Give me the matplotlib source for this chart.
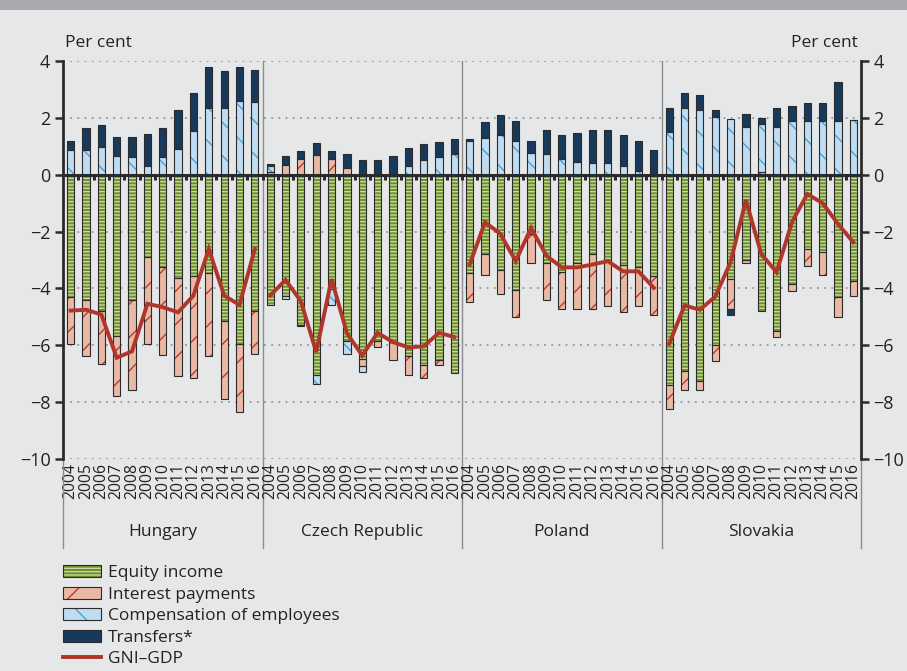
import numpy as np
import matplotlib
matplotlib.use("Agg")
import matplotlib.pyplot as plt
from matplotlib.patches import Patch, Rectangle
from matplotlib.lines import Line2D
from matplotlib.legend_handler import HandlerTuple

plt.rcParams['font.family'] = ['Open Sans', 'DejaVu Sans']
plt.rcParams['hatch.linewidth'] = 1.0

countries = ['Hungary', 'Czech Republic', 'Poland', 'Slovakia']
years = [str(y) for y in range(2004, 2017)]

equity = {
    'Hungary':        [-4.31, -4.40, -4.78, -5.67, -4.40, -2.88, -3.26, -3.63, -3.56, -3.47, -5.13, -5.97, -4.78],
    'Czech Republic': [-4.57, -4.25, -5.27, -7.06, -4.02, -5.85, -6.48, -5.85, -5.89, -6.36, -6.71, -6.51, -6.97],
    'Poland':         [-3.47, -2.79, -3.35, -4.04, -2.08, -3.10, -3.41, -3.10, -2.79, -3.08, -3.17, -3.23, -3.58],
    'Slovakia':       [-7.39, -6.92, -7.24, -5.98, -3.67, -3.00, -4.81, -5.50, -3.84, -2.63, -2.73, -4.29, -3.75],
}
interest = {
    'Hungary':        [-1.66, -1.99, -1.87, -2.11, -3.16, -3.09, -3.09, -3.45, -3.58, -2.92, -2.75, -2.37, -1.52],
    'Czech Republic': [0.08, 0.35, 0.56, 0.71, 0.56, 0.25, -0.26, -0.22, -0.62, -0.67, -0.43, -0.20, 0.0],
    'Poland':         [-0.99, -0.73, -0.84, -0.95, -1.02, -1.30, -1.31, -1.62, -1.93, -1.53, -1.67, -1.38, -1.34],
    'Slovakia':       [-0.84, -0.64, -0.32, -0.58, -1.05, -0.10, 0.09, -0.21, -0.26, -0.59, -0.79, -0.70, -0.52],
}
compensation = {
    'Hungary':        [0.86, 0.86, 0.98, 0.66, 0.61, 0.31, 0.61, 0.92, 1.55, 2.35, 2.35, 2.60, 2.55],
    'Czech Republic': [0.23, -0.12, -0.05, -0.29, -0.55, -0.45, -0.19, 0.0, 0.0, 0.31, 0.51, 0.62, 0.72],
    'Poland':         [1.18, 1.29, 1.39, 1.18, 0.76, 0.72, 0.54, 0.45, 0.40, 0.40, 0.31, 0.12, 0.0],
    'Slovakia':       [1.51, 2.35, 2.26, 2.04, 1.95, 1.68, 1.69, 1.68, 1.88, 1.88, 1.88, 1.88, 1.94],
}
transfers = {
    'Hungary':        [0.32, 0.79, 0.76, 0.67, 0.72, 1.11, 1.04, 1.35, 1.34, 1.43, 1.29, 1.18, 1.13],
    'Czech Republic': [0.05, 0.30, 0.29, 0.40, 0.29, 0.49, 0.53, 0.53, 0.65, 0.63, 0.58, 0.53, 0.53],
    'Poland':         [0.07, 0.55, 0.70, 0.70, 0.44, 0.84, 0.87, 1.03, 1.16, 1.16, 1.10, 1.08, 0.88],
    'Slovakia':       [0.82, 0.54, 0.53, 0.22, -0.21, 0.47, 0.22, 0.65, 0.54, 0.65, 0.65, 1.39, 0.0],
}
gni_gdp = {
    'Hungary':        [-4.78, -4.75, -4.92, -6.44, -6.21, -4.54, -4.66, -4.84, -4.25, -2.61, -4.25, -4.58, -2.61],
    'Czech Republic': [-4.25, -3.70, -4.45, -6.24, -3.67, -5.57, -6.36, -5.56, -5.89, -6.07, -6.04, -5.56, -5.71],
    'Poland':         [-3.16, -1.67, -2.08, -3.04, -1.87, -2.85, -3.26, -3.26, -3.16, -3.04, -3.40, -3.40, -3.98],
    'Slovakia':       [-5.95, -4.60, -4.75, -4.29, -3.08, -0.89, -2.79, -3.43, -1.67, -0.68, -1.00, -1.73, -2.38],
}

series = [
    ('Equity income', equity, '#6f8f2c', '#c5d99e', '-----'),
    ('Interest payments', interest, '#e9b9a6', '#c0392b', '/'),
    ('Compensation of employees', compensation, '#bfdcf2', '#4a9fd8', '\\'),
    ('Transfers*', transfers, '#173a5c', '#173a5c', None),
]
line_color = '#b0362b'
outline = '#2b2b2b'
bg = '#e6e7e8'

fig = plt.figure(figsize=(9.07, 6.71), dpi=100, facecolor=bg)
fig.patches.append(Rectangle((0, 1 - 10 / 671), 1, 10 / 671, transform=fig.transFigure,
                             facecolor='#a7a9ac', edgecolor='none', zorder=0))
ax = fig.add_axes([63 / 907, 1 - 459 / 671, (861 - 63) / 907, (459 - 61) / 671])
ax.set_facecolor(bg)

n = len(years)
ncat = n * len(countries)
x_all = np.arange(ncat)
width = 0.47

pos_base = np.zeros(ncat)
neg_base = np.zeros(ncat)
for name, data, fc, hc, hatch in series:
    vals = np.concatenate([data[c] for c in countries])
    base = np.where(vals >= 0, pos_base, neg_base)
    ax.bar(x_all, vals, width, bottom=base, color=fc, edgecolor=hc, hatch=hatch,
           linewidth=0, zorder=2)
    ax.bar(x_all, vals, width, bottom=base, fill=False, edgecolor=outline,
           linewidth=0.8, zorder=3)
    pos_base = pos_base + np.where(vals > 0, vals, 0)
    neg_base = neg_base + np.where(vals < 0, vals, 0)

for i, c in enumerate(countries):
    xs = np.arange(n) + i * n
    ax.plot(xs, gni_gdp[c], color=line_color, lw=2.8, zorder=5, solid_joinstyle='miter')

ax.set_xlim(-0.5, ncat - 0.5)
ax.set_ylim(-10, 4)
ax.set_yticks(np.arange(-10, 5, 2))
ax.set_yticklabels([str(v).replace('-', '\u2212') for v in range(-10, 5, 2)])
ax.tick_params(axis='y', which='both', left=True, right=True, labelleft=True, labelright=True,
               direction='out', length=6, width=1.8, color=outline, labelsize=13,
               labelcolor='#222222', pad=3)
ax.set_xticks(x_all)
ax.set_xticklabels(years * len(countries), rotation=90, fontsize=11.3, color='#222222')
ax.tick_params(axis='x', length=0, pad=3)

for v in range(-10, 5, 2):
    if v != 0:
        ax.axhline(v, color='#888888', lw=1.1, ls=(0, (1.2, 3.5)), zorder=1)
ax.axhline(0, color=outline, lw=2.2, zorder=6)
for b in np.arange(ncat - 1) + 0.5:
    ax.plot([b, b], [0, -0.2], color=outline, lw=2.2, zorder=6, solid_capstyle='butt')

for s in ['top', 'bottom']:
    ax.spines[s].set_visible(False)
for s in ['left', 'right']:
    ax.spines[s].set_color(outline)
    ax.spines[s].set_linewidth(2)

trans = ax.get_xaxis_transform()
for xb in [-0.5, ncat - 0.5]:
    ax.plot([xb, xb], [0, -0.224], transform=trans, color='#8a8c8e', lw=1, clip_on=False)
for k in range(1, len(countries)):
    xb = k * n - 0.5
    ax.plot([xb, xb], [1, -0.224], transform=trans, color='#8a8c8e', lw=1, clip_on=False, zorder=1)
for i, c in enumerate(countries):
    ax.text(i * n + (n - 1) / 2, -0.183, c, transform=trans, ha='center', va='center',
            fontsize=12.5, color='#222222')

fig.text(65 / 907, 1 - 43 / 671, 'Per cent', ha='left', va='center', fontsize=12.5, color='#222222')
fig.text(858 / 907, 1 - 43 / 671, 'Per cent', ha='right', va='center', fontsize=12.5, color='#222222')

handles = []
labels = []
for name, data, fc, hc, hatch in series:
    h1 = Patch(facecolor=fc, edgecolor=hc, hatch=hatch, linewidth=0)
    h2 = Patch(fill=False, edgecolor=outline, linewidth=0.8)
    handles.append((h1, h2))
    labels.append(name)
handles.append(Line2D([0], [0], color=line_color, lw=2.8))
labels.append('GNI\u2013GDP')
fig.legend(handles, labels, loc='upper left', bbox_to_anchor=(63 / 907, 1 - 565 / 671),
           frameon=False, fontsize=12.5, handlelength=2.2, handleheight=0.7,
           labelspacing=0.31, handletextpad=0.4, borderaxespad=0, borderpad=0,
           handler_map={tuple: HandlerTuple(ndivide=1)}, labelcolor='#222222')

fig.savefig('out.png', dpi=100, facecolor=bg)
